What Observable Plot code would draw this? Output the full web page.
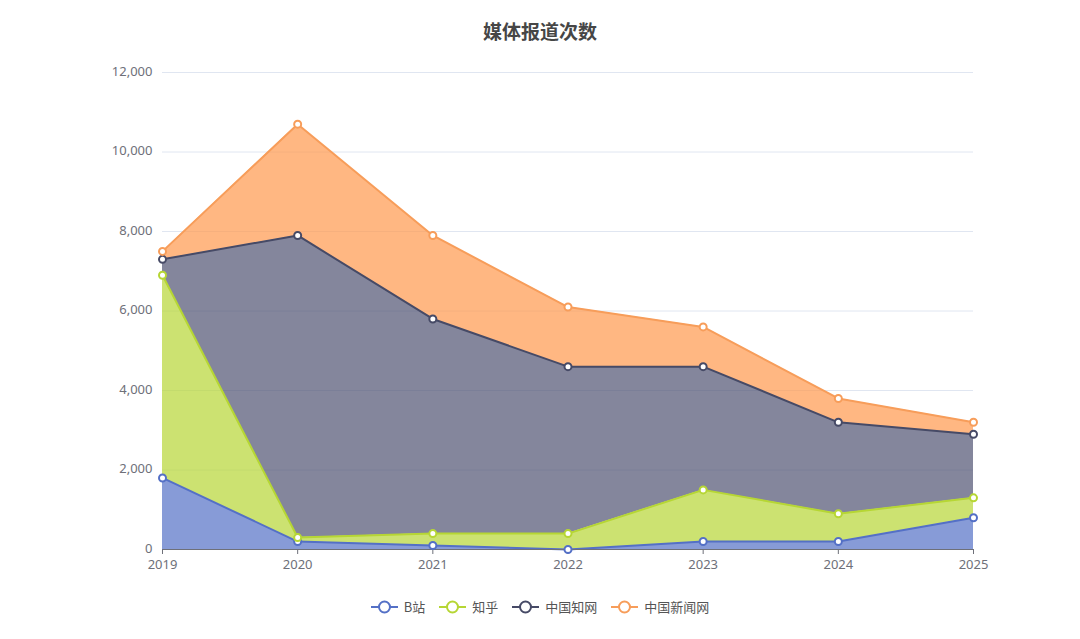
<!DOCTYPE html>
<html>
<head>
<meta charset="utf-8">
<script src="https://cdn.jsdelivr.net/npm/d3@7"></script>
<script src="https://cdn.jsdelivr.net/npm/@observablehq/plot@0.6"></script>
<style>
  html, body { margin: 0; padding: 0; background: #fff; }
  body { width: 1080px; height: 639px; font-family: "Noto Sans CJK SC", "Noto Sans", sans-serif; }
  #title { height: 55px; line-height: 62px; text-align: center; font-size: 19px; font-weight: bold; color: #464646; }
  #legend { display: flex; justify-content: center; align-items: center; gap: 14px; font-size: 13px; color: #555; margin-top: 7px; }
  #legend .item { display: flex; align-items: center; gap: 6px; }
</style>
</head>
<body>
<div id="title">媒体报道次数</div>
<div id="chart"></div>
<div id="legend"></div>
<script>
const years = [2019, 2020, 2021, 2022, 2023, 2024, 2025];
const seriesNames = ["B站", "知乎", "中国知网", "中国新闻网"];
const bilibili = [1800, 200, 100, 0, 200, 200, 800];
const zhihu = [5100, 100, 300, 400, 1300, 700, 500];
const cnki = [400, 7600, 5400, 4200, 3100, 2300, 1600];
const chinanews = [200, 2800, 2100, 1500, 1000, 600, 300];
const yTicks = [0, 2000, 4000, 6000, 8000, 10000, 12000];
const lineColors = ["#5470c6", "#b6d634", "#464a66", "#f79d5a"];
const areaColors = ["#5470c6", "#b6d634", "#505372", "#ff994d"];

const allValues = [bilibili, zhihu, cnki, chinanews];
const data = [];
seriesNames.forEach((name, si) => {
  years.forEach((yr, i) => data.push({ series: name, year: yr, value: allValues[si][i] }));
});

const stackOpts = { x: "year", y: "value", z: "series", order: seriesNames };

const chart = Plot.plot({
  width: 1080,
  height: 535,
  marginTop: 17,
  marginBottom: 41,
  marginLeft: 162,
  marginRight: 107,
  style: { fontFamily: "'Noto Sans', 'Noto Sans CJK SC', sans-serif", fontSize: "13px", color: "#6e7079", background: "#fff" },
  x: { type: "linear", domain: [2019, 2025], ticks: years, tickFormat: "d", label: null, tickSize: 5 },
  y: { domain: [0, 12000], ticks: yTicks, tickFormat: d3.format(","), label: null, tickSize: 0 },
  color: { domain: seriesNames, range: areaColors },
  marks: [
    Plot.gridY(yTicks, { stroke: "#e0e6f1", strokeOpacity: 1, strokeWidth: 1 }),
    Plot.areaY(data, Plot.stackY({ ...stackOpts, fill: "series", fillOpacity: 0.7 })),
    Plot.lineY(data, Plot.stackY2({ ...stackOpts, stroke: d => lineColors[seriesNames.indexOf(d.series)], strokeWidth: 2 })),
    Plot.ruleY([0], { stroke: "#6e7079", strokeWidth: 1 }),
    Plot.axisX({ ticks: years, tickFormat: "d", tickSize: 5, stroke: "#6e7079", fill: "#6e7079", fontSize: 13, tickPadding: 5 }),
    Plot.axisY({ ticks: yTicks, tickFormat: d3.format(","), tickSize: 0, tickPadding: 10, fill: "#6e7079", fontSize: 13, dy: -1 }),
    Plot.dotY(data, Plot.stackY2({ ...stackOpts, r: 3.5, fill: "#fff", stroke: d => lineColors[seriesNames.indexOf(d.series)], strokeWidth: 2 }))
  ]
});
document.getElementById("chart").appendChild(chart);

const legend = document.getElementById("legend");
seriesNames.forEach((name, i) => {
  const item = document.createElement("div");
  item.className = "item";
  item.innerHTML = `<svg width="27" height="14"><line x1="0" y1="7" x2="27" y2="7" stroke="${lineColors[i]}" stroke-width="2"/><circle cx="13.5" cy="7" r="5.5" fill="#fff" stroke="${lineColors[i]}" stroke-width="2"/></svg><span>${name}</span>`;
  legend.appendChild(item);
});
</script>
</body>
</html>
